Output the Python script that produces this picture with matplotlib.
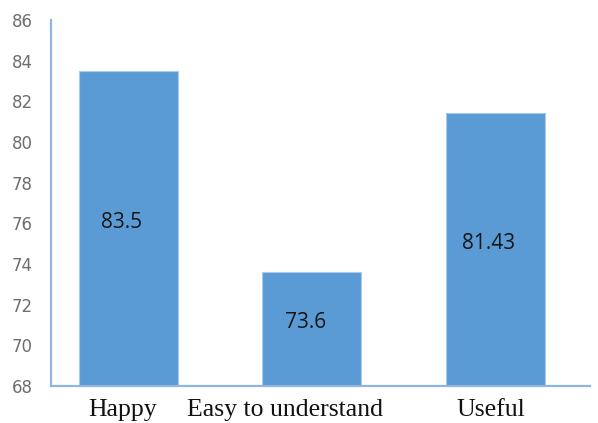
import matplotlib
matplotlib.use("Agg")
import matplotlib.pyplot as plt
from matplotlib.transforms import ScaledTranslation

categories = ["Happy", "Easy to understand", "Useful"]
values = [83.5, 73.6, 81.43]
value_labels = ["83.5", "73.6", "81.43"]
yticks = [68, 70, 72, 74, 76, 78, 80, 82, 84, 86]

fig = plt.figure(figsize=(5.98, 4.23), dpi=100)
ax = fig.add_axes([51/598, 37/423, (590-51)/598, (386-20)/423])

x = list(range(len(categories)))
bars = ax.bar(x, [v - 68 for v in values], bottom=68, width=0.54,
              color="#5B9BD5", edgecolor="#A9CBEB", linewidth=0.8, zorder=2)

ax.set_ylim(68, 86)
ax.set_xlim(-0.42, 2.515)
ax.set_yticks(yticks)
ax.set_yticklabels([str(t) for t in yticks],
                   family=["Liberation Sans Narrow", "DejaVu Sans"],
                   fontsize=12, color="#6e6e6e")
ax.tick_params(axis="y", length=0, pad=13)
ax.tick_params(axis="x", length=0, pad=9)

ax.set_xticks(x)
ax.set_xticklabels(categories, family=["Liberation Serif", "DejaVu Serif"],
                   fontsize=18.5, color="#111111")
offsets = [-6, -27, -5]
for lab, off in zip(ax.get_xticklabels(), offsets):
    lab.set_transform(lab.get_transform() + ScaledTranslation(off/100, 0, fig.dpi_scale_trans))

for xi, v, s in zip(x, values, value_labels):
    ax.text(xi - 0.035, (68 + v) / 2 + 0.3, s, ha="center", va="center",
            family=["Open Sans", "DejaVu Sans"], fontsize=15, color="#151515", zorder=3)

for side in ["top", "right"]:
    ax.spines[side].set_visible(False)
for side in ["left", "bottom"]:
    ax.spines[side].set_color("#8DB6E2")
    ax.spines[side].set_linewidth(1.6)

fig.savefig("out.png", dpi=100)
